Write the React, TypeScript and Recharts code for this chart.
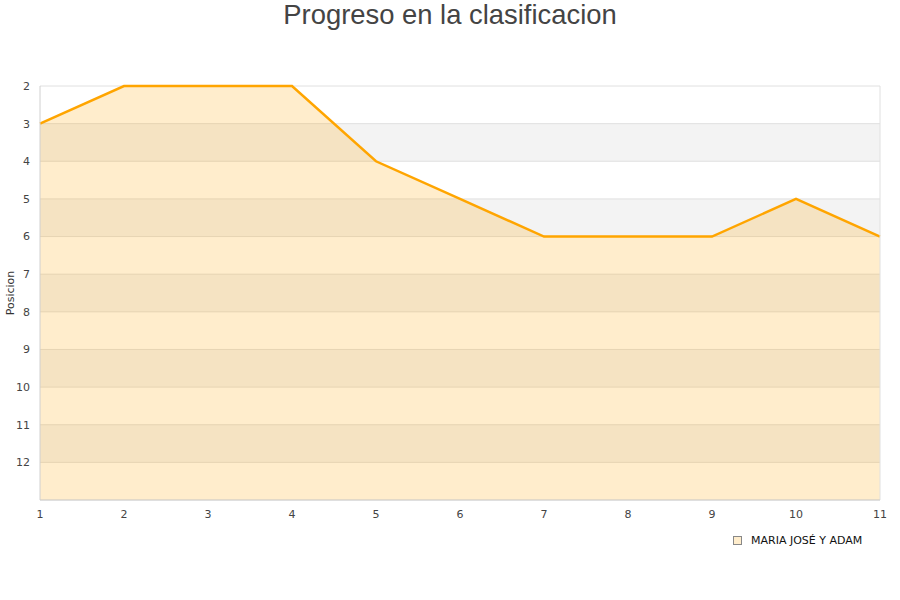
import React from "react";
import { Area, AreaChart, CartesianGrid, ReferenceLine, XAxis, YAxis } from "recharts";

const jornadas = [1, 2, 3, 4, 5, 6, 7, 8, 9, 10, 11];
const posiciones = [3, 2, 2, 2, 4, 5, 6, 6, 6, 5, 6];
const yTicks = [2, 3, 4, 5, 6, 7, 8, 9, 10, 11, 12, 13];
const serie = "MARIA JOSÉ Y ADAM";

const data = jornadas.map((j, i) => ({ jornada: j, pos: posiciones[i] }));

const tickStyle = { fill: "#444", fontSize: 11, fontFamily: "DejaVu Sans" };

function LegendBox() {
  return (
    <div
      style={{
        position: "absolute",
        left: 733,
        top: 534,
        display: "flex",
        alignItems: "center",
        fontFamily: "DejaVu Sans",
        fontSize: 11,
        color: "#111",
      }}
    >
      <span
        style={{
          width: 7,
          height: 7,
          border: "1px solid #888",
          background: "#FFEDCC",
          display: "inline-block",
          marginRight: 9,
        }}
      />
      {serie}
    </div>
  );
}

export default function App() {
  return (
    <div style={{ position: "absolute", left: 0, top: 0, width: 900, height: 600, background: "#fff" }}>
      <div
        style={{
          position: "absolute",
          top: 0,
          width: 900,
          textAlign: "center",
          fontFamily: "Liberation Sans",
          fontSize: 27.4,
          color: "#444",
          lineHeight: "30px",
        }}
      >
        Progreso en la clasificacion
      </div>
      <AreaChart width={900} height={600} data={data} margin={{ top: 86, right: 20, bottom: 70, left: 0 }}>
        <CartesianGrid
          vertical={false}
          stroke="#e0e0e0"
          horizontalFill={["#ffffff", "#f3f3f3"]}
          fillOpacity={1}
        />
        <XAxis
          dataKey="jornada"
          type="number"
          domain={[1, 11]}
          ticks={jornadas}
          height={30}
          tickLine={false}
          axisLine={{ stroke: "#d0d0d0" }}
          tick={tickStyle}
          tickMargin={4}
        />
        <YAxis
          dataKey="pos"
          reversed
          domain={[2, 13]}
          ticks={yTicks}
          tickFormatter={(v) => (v === 13 ? "" : String(v))}
          width={40}
          tickLine={false}
          axisLine={{ stroke: "#d0d0d0" }}
          tick={tickStyle}
          tickMargin={4}
          label={{
            value: "Posicion",
            angle: -90,
            position: "insideLeft",
            offset: 10,
            style: { fill: "#333", fontSize: 11, fontFamily: "DejaVu Sans", textAnchor: "middle" },
          }}
        />
        <ReferenceLine x={11} stroke="#e0e0e0" />
        <Area
          type="linear"
          dataKey="pos"
          baseValue={13}
          stroke="#FFA500"
          strokeWidth={2.5}
          fill="#FFA500"
          fillOpacity={0.2}
          dot={false}
          activeDot={false}
          isAnimationActive={false}
        />
      </AreaChart>
      <LegendBox />
    </div>
  );
}
